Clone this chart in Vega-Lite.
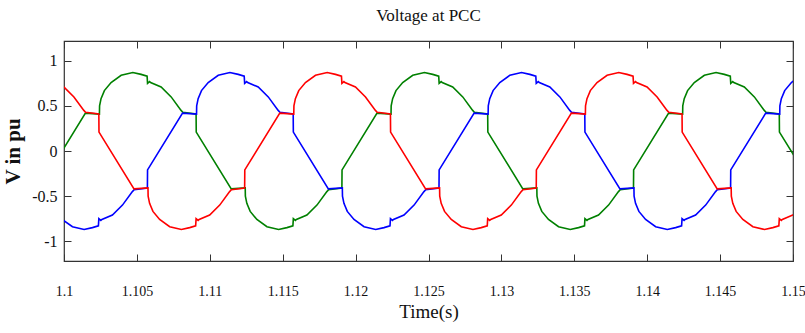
{
  "$schema": "https://vega.github.io/schema/vega-lite/v6.json",
  "width": 729,
  "height": 220,
  "autosize": {"type": "none"},
  "padding": {"left": 64, "top": 41, "right": 12, "bottom": 72},
  "background": "white",
  "config": {
    "view": {"stroke": "#333333", "strokeWidth": 1.2},
    "font": "Liberation Serif"
  },
  "title": {"text": "Voltage at PCC", "font": "Liberation Serif", "fontSize": 17, "fontWeight": "normal", "color": "#111", "offset": 16, "anchor": "middle"},
  "datasets": {
    "w": [
      {"t": 1.09815, "v": -0.43, "p": "A"}, {"t": 1.09906, "v": -0.41, "p": "A"},
      {"t": 1.09907, "v": -0.21, "p": "A"}, {"t": 1.10147, "v": 0.42, "p": "A"}, {"t": 1.10243, "v": 0.41, "p": "A"}, {"t": 1.10244, "v": 0.5, "p": "A"}, {"t": 1.10254, "v": 0.58, "p": "A"}, {"t": 1.10277, "v": 0.67, "p": "A"}, {"t": 1.10323, "v": 0.76, "p": "A"}, {"t": 1.10392, "v": 0.84, "p": "A"}, {"t": 1.10472, "v": 0.87, "p": "A"}, {"t": 1.10529, "v": 0.85, "p": "A"}, {"t": 1.1057, "v": 0.83, "p": "A"}, {"t": 1.10573, "v": 0.75, "p": "A"}, {"t": 1.10587, "v": 0.77, "p": "A"}, {"t": 1.10594, "v": 0.76, "p": "A"}, {"t": 1.10666, "v": 0.71, "p": "A"}, {"t": 1.10735, "v": 0.6, "p": "A"}, {"t": 1.10803, "v": 0.45, "p": "A"}, {"t": 1.10815, "v": 0.43, "p": "A"}, {"t": 1.10906, "v": 0.41, "p": "A"},
      {"t": 1.10907, "v": 0.21, "p": "A"}, {"t": 1.11147, "v": -0.42, "p": "A"}, {"t": 1.11243, "v": -0.41, "p": "A"}, {"t": 1.11244, "v": -0.5, "p": "A"}, {"t": 1.11254, "v": -0.58, "p": "A"}, {"t": 1.11277, "v": -0.67, "p": "A"}, {"t": 1.11323, "v": -0.76, "p": "A"}, {"t": 1.11392, "v": -0.84, "p": "A"}, {"t": 1.11472, "v": -0.87, "p": "A"}, {"t": 1.11529, "v": -0.85, "p": "A"}, {"t": 1.1157, "v": -0.83, "p": "A"}, {"t": 1.11573, "v": -0.75, "p": "A"}, {"t": 1.11587, "v": -0.77, "p": "A"}, {"t": 1.11594, "v": -0.76, "p": "A"}, {"t": 1.11666, "v": -0.71, "p": "A"}, {"t": 1.11735, "v": -0.6, "p": "A"}, {"t": 1.11803, "v": -0.45, "p": "A"}, {"t": 1.11815, "v": -0.43, "p": "A"}, {"t": 1.11906, "v": -0.41, "p": "A"},
      {"t": 1.11907, "v": -0.21, "p": "A"}, {"t": 1.12147, "v": 0.42, "p": "A"}, {"t": 1.12243, "v": 0.41, "p": "A"}, {"t": 1.12244, "v": 0.5, "p": "A"}, {"t": 1.12254, "v": 0.58, "p": "A"}, {"t": 1.12277, "v": 0.67, "p": "A"}, {"t": 1.12323, "v": 0.76, "p": "A"}, {"t": 1.12392, "v": 0.84, "p": "A"}, {"t": 1.12472, "v": 0.87, "p": "A"}, {"t": 1.12529, "v": 0.85, "p": "A"}, {"t": 1.1257, "v": 0.83, "p": "A"}, {"t": 1.12573, "v": 0.75, "p": "A"}, {"t": 1.12587, "v": 0.77, "p": "A"}, {"t": 1.12594, "v": 0.76, "p": "A"}, {"t": 1.12666, "v": 0.71, "p": "A"}, {"t": 1.12735, "v": 0.6, "p": "A"}, {"t": 1.12803, "v": 0.45, "p": "A"}, {"t": 1.12815, "v": 0.43, "p": "A"}, {"t": 1.12906, "v": 0.41, "p": "A"},
      {"t": 1.12907, "v": 0.21, "p": "A"}, {"t": 1.13147, "v": -0.42, "p": "A"}, {"t": 1.13243, "v": -0.41, "p": "A"}, {"t": 1.13244, "v": -0.5, "p": "A"}, {"t": 1.13254, "v": -0.58, "p": "A"}, {"t": 1.13277, "v": -0.67, "p": "A"}, {"t": 1.13323, "v": -0.76, "p": "A"}, {"t": 1.13392, "v": -0.84, "p": "A"}, {"t": 1.13472, "v": -0.87, "p": "A"}, {"t": 1.13529, "v": -0.85, "p": "A"}, {"t": 1.1357, "v": -0.83, "p": "A"}, {"t": 1.13573, "v": -0.75, "p": "A"}, {"t": 1.13587, "v": -0.77, "p": "A"}, {"t": 1.13594, "v": -0.76, "p": "A"}, {"t": 1.13666, "v": -0.71, "p": "A"}, {"t": 1.13735, "v": -0.6, "p": "A"}, {"t": 1.13803, "v": -0.45, "p": "A"}, {"t": 1.13815, "v": -0.43, "p": "A"}, {"t": 1.13906, "v": -0.41, "p": "A"},
      {"t": 1.13907, "v": -0.21, "p": "A"}, {"t": 1.14147, "v": 0.42, "p": "A"}, {"t": 1.14243, "v": 0.41, "p": "A"}, {"t": 1.14244, "v": 0.5, "p": "A"}, {"t": 1.14254, "v": 0.58, "p": "A"}, {"t": 1.14277, "v": 0.67, "p": "A"}, {"t": 1.14323, "v": 0.76, "p": "A"}, {"t": 1.14392, "v": 0.84, "p": "A"}, {"t": 1.14472, "v": 0.87, "p": "A"}, {"t": 1.14529, "v": 0.85, "p": "A"}, {"t": 1.1457, "v": 0.83, "p": "A"}, {"t": 1.14573, "v": 0.75, "p": "A"}, {"t": 1.14587, "v": 0.77, "p": "A"}, {"t": 1.14594, "v": 0.76, "p": "A"}, {"t": 1.14666, "v": 0.71, "p": "A"}, {"t": 1.14735, "v": 0.6, "p": "A"}, {"t": 1.14803, "v": 0.45, "p": "A"}, {"t": 1.14815, "v": 0.43, "p": "A"}, {"t": 1.14906, "v": 0.41, "p": "A"},
      {"t": 1.14907, "v": 0.21, "p": "A"}, {"t": 1.15147, "v": -0.42, "p": "A"},

      {"t": 1.0992, "v": -0.58, "p": "B"}, {"t": 1.09943, "v": -0.67, "p": "B"}, {"t": 1.09989, "v": -0.76, "p": "B"}, {"t": 1.10058, "v": -0.84, "p": "B"}, {"t": 1.10138, "v": -0.87, "p": "B"}, {"t": 1.10195, "v": -0.85, "p": "B"}, {"t": 1.10236, "v": -0.83, "p": "B"}, {"t": 1.10239, "v": -0.75, "p": "B"}, {"t": 1.10253, "v": -0.77, "p": "B"}, {"t": 1.1026, "v": -0.76, "p": "B"}, {"t": 1.10332, "v": -0.71, "p": "B"}, {"t": 1.10401, "v": -0.6, "p": "B"}, {"t": 1.10469, "v": -0.45, "p": "B"}, {"t": 1.10481, "v": -0.43, "p": "B"}, {"t": 1.10572, "v": -0.41, "p": "B"},
      {"t": 1.10573, "v": -0.21, "p": "B"}, {"t": 1.10813, "v": 0.42, "p": "B"}, {"t": 1.10909, "v": 0.41, "p": "B"}, {"t": 1.1091, "v": 0.5, "p": "B"}, {"t": 1.1092, "v": 0.58, "p": "B"}, {"t": 1.10943, "v": 0.67, "p": "B"}, {"t": 1.10989, "v": 0.76, "p": "B"}, {"t": 1.11058, "v": 0.84, "p": "B"}, {"t": 1.11138, "v": 0.87, "p": "B"}, {"t": 1.11195, "v": 0.85, "p": "B"}, {"t": 1.11236, "v": 0.83, "p": "B"}, {"t": 1.11239, "v": 0.75, "p": "B"}, {"t": 1.11253, "v": 0.77, "p": "B"}, {"t": 1.1126, "v": 0.76, "p": "B"}, {"t": 1.11332, "v": 0.71, "p": "B"}, {"t": 1.11401, "v": 0.6, "p": "B"}, {"t": 1.11469, "v": 0.45, "p": "B"}, {"t": 1.11481, "v": 0.43, "p": "B"}, {"t": 1.11572, "v": 0.41, "p": "B"},
      {"t": 1.11573, "v": 0.21, "p": "B"}, {"t": 1.11813, "v": -0.42, "p": "B"}, {"t": 1.11909, "v": -0.41, "p": "B"}, {"t": 1.1191, "v": -0.5, "p": "B"}, {"t": 1.1192, "v": -0.58, "p": "B"}, {"t": 1.11943, "v": -0.67, "p": "B"}, {"t": 1.11989, "v": -0.76, "p": "B"}, {"t": 1.12058, "v": -0.84, "p": "B"}, {"t": 1.12138, "v": -0.87, "p": "B"}, {"t": 1.12195, "v": -0.85, "p": "B"}, {"t": 1.12236, "v": -0.83, "p": "B"}, {"t": 1.12239, "v": -0.75, "p": "B"}, {"t": 1.12253, "v": -0.77, "p": "B"}, {"t": 1.1226, "v": -0.76, "p": "B"}, {"t": 1.12332, "v": -0.71, "p": "B"}, {"t": 1.12401, "v": -0.6, "p": "B"}, {"t": 1.12469, "v": -0.45, "p": "B"}, {"t": 1.12481, "v": -0.43, "p": "B"}, {"t": 1.12572, "v": -0.41, "p": "B"},
      {"t": 1.12573, "v": -0.21, "p": "B"}, {"t": 1.12813, "v": 0.42, "p": "B"}, {"t": 1.12909, "v": 0.41, "p": "B"}, {"t": 1.1291, "v": 0.5, "p": "B"}, {"t": 1.1292, "v": 0.58, "p": "B"}, {"t": 1.12943, "v": 0.67, "p": "B"}, {"t": 1.12989, "v": 0.76, "p": "B"}, {"t": 1.13058, "v": 0.84, "p": "B"}, {"t": 1.13138, "v": 0.87, "p": "B"}, {"t": 1.13195, "v": 0.85, "p": "B"}, {"t": 1.13236, "v": 0.83, "p": "B"}, {"t": 1.13239, "v": 0.75, "p": "B"}, {"t": 1.13253, "v": 0.77, "p": "B"}, {"t": 1.1326, "v": 0.76, "p": "B"}, {"t": 1.13332, "v": 0.71, "p": "B"}, {"t": 1.13401, "v": 0.6, "p": "B"}, {"t": 1.13469, "v": 0.45, "p": "B"}, {"t": 1.13481, "v": 0.43, "p": "B"}, {"t": 1.13572, "v": 0.41, "p": "B"},
      {"t": 1.13573, "v": 0.21, "p": "B"}, {"t": 1.13813, "v": -0.42, "p": "B"}, {"t": 1.13909, "v": -0.41, "p": "B"}, {"t": 1.1391, "v": -0.5, "p": "B"}, {"t": 1.1392, "v": -0.58, "p": "B"}, {"t": 1.13943, "v": -0.67, "p": "B"}, {"t": 1.13989, "v": -0.76, "p": "B"}, {"t": 1.14058, "v": -0.84, "p": "B"}, {"t": 1.14138, "v": -0.87, "p": "B"}, {"t": 1.14195, "v": -0.85, "p": "B"}, {"t": 1.14236, "v": -0.83, "p": "B"}, {"t": 1.14239, "v": -0.75, "p": "B"}, {"t": 1.14253, "v": -0.77, "p": "B"}, {"t": 1.1426, "v": -0.76, "p": "B"}, {"t": 1.14332, "v": -0.71, "p": "B"}, {"t": 1.14401, "v": -0.6, "p": "B"}, {"t": 1.14469, "v": -0.45, "p": "B"}, {"t": 1.14481, "v": -0.43, "p": "B"}, {"t": 1.14572, "v": -0.41, "p": "B"},
      {"t": 1.14573, "v": -0.21, "p": "B"}, {"t": 1.14813, "v": 0.42, "p": "B"}, {"t": 1.14909, "v": 0.41, "p": "B"}, {"t": 1.1491, "v": 0.5, "p": "B"}, {"t": 1.1492, "v": 0.58, "p": "B"}, {"t": 1.14943, "v": 0.67, "p": "B"}, {"t": 1.14989, "v": 0.76, "p": "B"}, {"t": 1.15058, "v": 0.84, "p": "B"},

      {"t": 1.09927, "v": 0.76, "p": "C"}, {"t": 1.09999, "v": 0.71, "p": "C"}, {"t": 1.10068, "v": 0.6, "p": "C"}, {"t": 1.10136, "v": 0.45, "p": "C"}, {"t": 1.10148, "v": 0.43, "p": "C"}, {"t": 1.10239, "v": 0.41, "p": "C"},
      {"t": 1.1024, "v": 0.21, "p": "C"}, {"t": 1.1048, "v": -0.42, "p": "C"}, {"t": 1.10576, "v": -0.41, "p": "C"}, {"t": 1.10577, "v": -0.5, "p": "C"}, {"t": 1.10587, "v": -0.58, "p": "C"}, {"t": 1.1061, "v": -0.67, "p": "C"}, {"t": 1.10656, "v": -0.76, "p": "C"}, {"t": 1.10725, "v": -0.84, "p": "C"}, {"t": 1.10805, "v": -0.87, "p": "C"}, {"t": 1.10862, "v": -0.85, "p": "C"}, {"t": 1.10903, "v": -0.83, "p": "C"}, {"t": 1.10906, "v": -0.75, "p": "C"}, {"t": 1.1092, "v": -0.77, "p": "C"}, {"t": 1.10927, "v": -0.76, "p": "C"}, {"t": 1.10999, "v": -0.71, "p": "C"}, {"t": 1.11068, "v": -0.6, "p": "C"}, {"t": 1.11136, "v": -0.45, "p": "C"}, {"t": 1.11148, "v": -0.43, "p": "C"}, {"t": 1.11239, "v": -0.41, "p": "C"},
      {"t": 1.1124, "v": -0.21, "p": "C"}, {"t": 1.1148, "v": 0.42, "p": "C"}, {"t": 1.11576, "v": 0.41, "p": "C"}, {"t": 1.11577, "v": 0.5, "p": "C"}, {"t": 1.11587, "v": 0.58, "p": "C"}, {"t": 1.1161, "v": 0.67, "p": "C"}, {"t": 1.11656, "v": 0.76, "p": "C"}, {"t": 1.11725, "v": 0.84, "p": "C"}, {"t": 1.11805, "v": 0.87, "p": "C"}, {"t": 1.11862, "v": 0.85, "p": "C"}, {"t": 1.11903, "v": 0.83, "p": "C"}, {"t": 1.11906, "v": 0.75, "p": "C"}, {"t": 1.1192, "v": 0.77, "p": "C"}, {"t": 1.11927, "v": 0.76, "p": "C"}, {"t": 1.11999, "v": 0.71, "p": "C"}, {"t": 1.12068, "v": 0.6, "p": "C"}, {"t": 1.12136, "v": 0.45, "p": "C"}, {"t": 1.12148, "v": 0.43, "p": "C"}, {"t": 1.12239, "v": 0.41, "p": "C"},
      {"t": 1.1224, "v": 0.21, "p": "C"}, {"t": 1.1248, "v": -0.42, "p": "C"}, {"t": 1.12576, "v": -0.41, "p": "C"}, {"t": 1.12577, "v": -0.5, "p": "C"}, {"t": 1.12587, "v": -0.58, "p": "C"}, {"t": 1.1261, "v": -0.67, "p": "C"}, {"t": 1.12656, "v": -0.76, "p": "C"}, {"t": 1.12725, "v": -0.84, "p": "C"}, {"t": 1.12805, "v": -0.87, "p": "C"}, {"t": 1.12862, "v": -0.85, "p": "C"}, {"t": 1.12903, "v": -0.83, "p": "C"}, {"t": 1.12906, "v": -0.75, "p": "C"}, {"t": 1.1292, "v": -0.77, "p": "C"}, {"t": 1.12927, "v": -0.76, "p": "C"}, {"t": 1.12999, "v": -0.71, "p": "C"}, {"t": 1.13068, "v": -0.6, "p": "C"}, {"t": 1.13136, "v": -0.45, "p": "C"}, {"t": 1.13148, "v": -0.43, "p": "C"}, {"t": 1.13239, "v": -0.41, "p": "C"},
      {"t": 1.1324, "v": -0.21, "p": "C"}, {"t": 1.1348, "v": 0.42, "p": "C"}, {"t": 1.13576, "v": 0.41, "p": "C"}, {"t": 1.13577, "v": 0.5, "p": "C"}, {"t": 1.13587, "v": 0.58, "p": "C"}, {"t": 1.1361, "v": 0.67, "p": "C"}, {"t": 1.13656, "v": 0.76, "p": "C"}, {"t": 1.13725, "v": 0.84, "p": "C"}, {"t": 1.13805, "v": 0.87, "p": "C"}, {"t": 1.13862, "v": 0.85, "p": "C"}, {"t": 1.13903, "v": 0.83, "p": "C"}, {"t": 1.13906, "v": 0.75, "p": "C"}, {"t": 1.1392, "v": 0.77, "p": "C"}, {"t": 1.13927, "v": 0.76, "p": "C"}, {"t": 1.13999, "v": 0.71, "p": "C"}, {"t": 1.14068, "v": 0.6, "p": "C"}, {"t": 1.14136, "v": 0.45, "p": "C"}, {"t": 1.14148, "v": 0.43, "p": "C"}, {"t": 1.14239, "v": 0.41, "p": "C"},
      {"t": 1.1424, "v": 0.21, "p": "C"}, {"t": 1.1448, "v": -0.42, "p": "C"}, {"t": 1.14576, "v": -0.41, "p": "C"}, {"t": 1.14577, "v": -0.5, "p": "C"}, {"t": 1.14587, "v": -0.58, "p": "C"}, {"t": 1.1461, "v": -0.67, "p": "C"}, {"t": 1.14656, "v": -0.76, "p": "C"}, {"t": 1.14725, "v": -0.84, "p": "C"}, {"t": 1.14805, "v": -0.87, "p": "C"}, {"t": 1.14862, "v": -0.85, "p": "C"}, {"t": 1.14903, "v": -0.83, "p": "C"}, {"t": 1.14906, "v": -0.75, "p": "C"}, {"t": 1.1492, "v": -0.77, "p": "C"}, {"t": 1.14927, "v": -0.76, "p": "C"}, {"t": 1.14999, "v": -0.71, "p": "C"}, {"t": 1.15068, "v": -0.6, "p": "C"}
    ]
  },
  "data": {"name": "w"},
  "layer": [
    {
      "mark": {"type": "line", "strokeWidth": 1.6, "clip": true, "interpolate": "linear"},
      "encoding": {
        "x": {
          "field": "t", "type": "quantitative",
          "scale": {"domain": [1.1, 1.15], "nice": false, "zero": false},
          "axis": {
            "orient": "bottom", "values": [1.1, 1.105, 1.11, 1.115, 1.12, 1.125, 1.13, 1.135, 1.14, 1.145, 1.15],
            "format": ".3~f", "grid": false, "domain": false,
            "tickSize": -7, "tickColor": "#333", "tickWidth": 1,
            "labelPadding": 30, "labelFont": "Liberation Serif", "labelFontSize": 14, "labelColor": "#111",
            "labelFlush": false, "labelOverlap": false,
            "title": "Time(s)", "titleFont": "Liberation Serif", "titleFontSize": 19, "titleFontWeight": "normal", "titleColor": "#111", "titlePadding": 4
          }
        },
        "y": {
          "field": "v", "type": "quantitative",
          "scale": {"domain": [-1.22, 1.22], "nice": false, "zero": false},
          "axis": {
            "orient": "left", "values": [-1, -0.5, 0, 0.5, 1],
            "labelExpr": "replace(format(datum.value, '~g'), '\u2212', '-')",
            "grid": false, "domain": false,
            "tickSize": -7, "tickColor": "#333", "tickWidth": 1,
            "labelPadding": 14, "labelFont": "Liberation Serif", "labelFontSize": 16, "labelColor": "#111",
            "labelFlush": false, "labelOverlap": false,
            "title": "V in pu", "titleFont": "Liberation Serif", "titleFontSize": 21, "titleFontWeight": "bold", "titleColor": "#111", "titlePadding": 8
          }
        },
        "color": {
          "field": "p", "type": "nominal",
          "scale": {"domain": ["A", "B", "C"], "range": ["#008000", "#0000ff", "#ff0000"]},
          "legend": null
        }
      }
    },
    {
      "mark": {"type": "point", "opacity": 0, "clip": true},
      "encoding": {
        "x": {
          "field": "t", "type": "quantitative",
          "axis": {"orient": "top", "values": [1.1, 1.105, 1.11, 1.115, 1.12, 1.125, 1.13, 1.135, 1.14, 1.145, 1.15], "labels": false, "grid": false, "domain": false, "tickSize": -7, "tickColor": "#333", "title": null}
        },
        "y": {
          "field": "v", "type": "quantitative",
          "axis": {"orient": "right", "values": [-1, -0.5, 0, 0.5, 1], "labels": false, "grid": false, "domain": false, "tickSize": -7, "tickColor": "#333", "title": null}
        }
      }
    }
  ],
  "resolve": {"axis": {"x": "independent", "y": "independent"}}
}
